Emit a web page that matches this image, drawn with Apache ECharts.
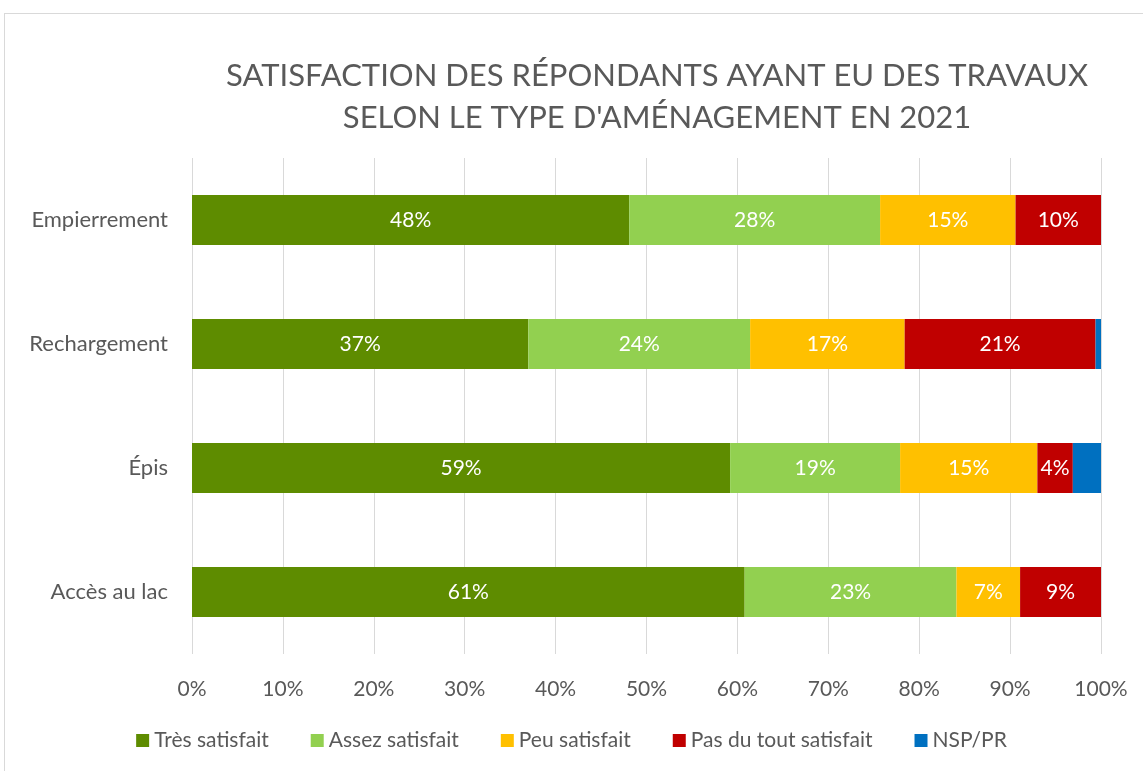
<!DOCTYPE html>
<html>
<head>
<meta charset="utf-8">
<script src="https://cdn.jsdelivr.net/npm/echarts@6/dist/echarts.min.js"></script>
<style>
  html, body { margin: 0; padding: 0; background: #fff; }
  #frame {
    position: absolute; left: 4px; top: 13px; width: 1150px; height: 770px;
    border: 1px solid #d9d9d9; box-sizing: border-box;
  }
  #chart { position: absolute; left: 0; top: 0; width: 1143px; height: 771px; }
</style>
</head>
<body>
<div id="frame"></div>
<div id="chart"></div>
<script>
const categories = ['Empierrement', 'Rechargement', 'Épis', 'Accès au lac']
const seriesNames = ['Très satisfait', 'Assez satisfait', 'Peu satisfait', 'Pas du tout satisfait', 'NSP/PR']
const tresSatisfait = [48.1, 37.0, 59.2, 60.8]
const assezSatisfait = [27.6, 24.4, 18.7, 23.3]
const peuSatisfait = [14.9, 17.0, 15.1, 7.0]
const pasDuTout = [9.5, 21.0, 3.9, 8.9]
const nspPr = [0, 0.6, 3.1, 0]
const xTicks = [0, 10, 20, 30, 40, 50, 60, 70, 80, 90, 100]

const colors = ['#5e8c00', '#92d050', '#ffc000', '#c00000', '#0070c0']
const font = 'Lato, "Open Sans", sans-serif'

const chart = echarts.init(document.getElementById('chart'))

const values = [tresSatisfait, assezSatisfait, peuSatisfait, pasDuTout, nspPr]

const series = seriesNames.map((name, i) => ({
  name,
  type: 'bar',
  stack: 'total',
  barWidth: 50,
  data: values[i].slice().reverse(),
  itemStyle: { color: colors[i] },
  label: {
    show: i < 4,
    position: 'inside',
    color: '#fff',
    fontFamily: font,
    fontSize: 21,
    formatter: p => Math.round(p.value) + '%'
  }
}))

chart.setOption({
  animation: false,
  color: colors,
  title: {
    text: "SATISFACTION DES RÉPONDANTS AYANT EU DES TRAVAUX\nSELON LE TYPE D'AMÉNAGEMENT EN 2021",
    left: 652,
    top: 50,
    textAlign: 'center',
    textStyle: {
      fontFamily: font,
      fontSize: 31,
      fontWeight: 'normal',
      color: '#595959',
      lineHeight: 42
    }
  },
  legend: {
    bottom: 15,
    left: 'center',
    itemWidth: 13,
    itemHeight: 13,
    itemGap: 42,
    icon: 'rect',
    textStyle: { fontFamily: font, fontSize: 21, color: '#595959' },
    data: seriesNames
  },
  grid: {
    left: 192,
    right: 42,
    top: 158,
    bottom: 117,
    containLabel: false
  },
  xAxis: {
    type: 'value',
    min: 0,
    max: 100,
    interval: 10,
    axisLine: { show: false },
    axisTick: { show: false },
    axisLabel: {
      fontFamily: font,
      fontSize: 21,
      color: '#595959',
      margin: 25,
      formatter: v => xTicks.includes(v) ? v + '%' : ''
    },
    splitLine: { lineStyle: { color: '#d9d9d9', width: 1 } }
  },
  yAxis: {
    type: 'category',
    data: categories.slice().reverse(),
    axisLine: { show: false },
    axisTick: { show: false },
    axisLabel: {
      fontFamily: font,
      fontSize: 22,
      color: '#595959',
      margin: 24
    }
  },
  series
})
</script>
</body>
</html>
